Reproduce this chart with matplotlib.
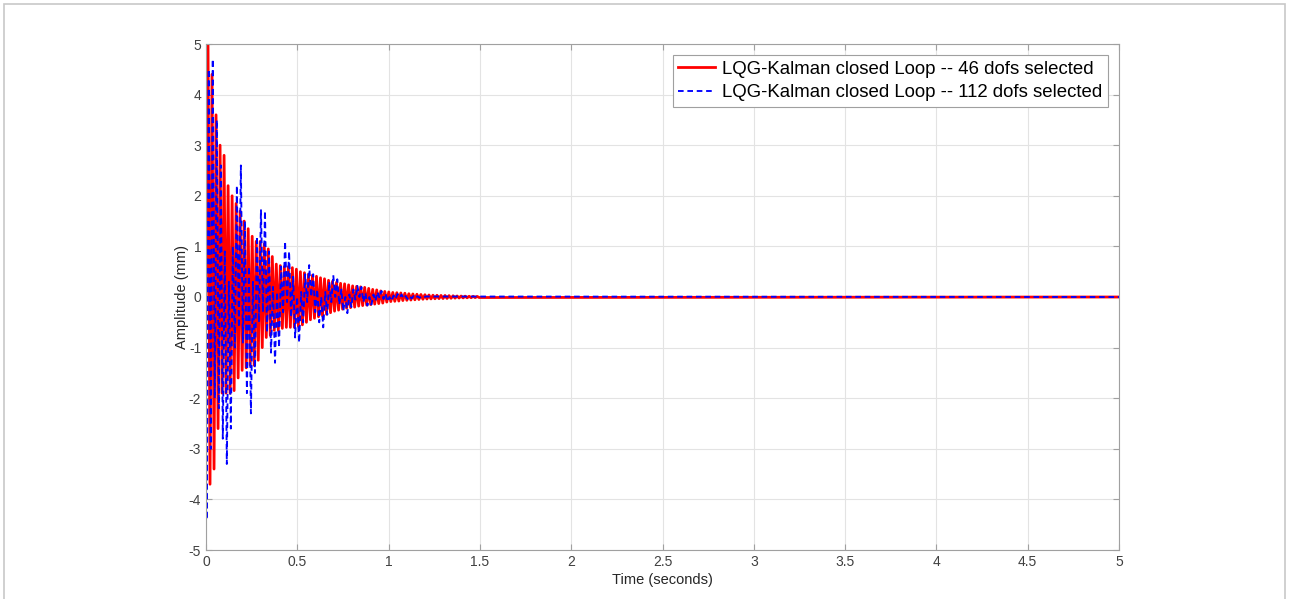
import numpy as np
import matplotlib
matplotlib.use("Agg")
import matplotlib.pyplot as plt
from matplotlib.patches import Rectangle

plt.rcParams["font.family"] = ["Liberation Sans", "DejaVu Sans"]
plt.rcParams["axes.unicode_minus"] = False

# Red series: 46 dofs -- alternating extrema (half period ~0.011 s)
red_step = 0.011
red_vals = [
    0.0, 5.0, -3.7, 4.4, -3.4, 3.6, -2.6, 3.0, -1.9, 2.8,
    -1.9, 2.2, -1.9, 2.0, -1.85, 1.85, -1.6, 1.7, -1.45, 1.5,
    -1.4, 1.35, -1.35, 1.2, -1.35, 1.1, -1.25, 1.1, -1.0, 1.05,
    -0.8, 0.95, -0.76, 0.8, -0.66, 0.65, -0.66, 0.62, -0.62, 0.6,
    -0.6, 0.6, -0.6, 0.58, -0.6, 0.55, -0.58, 0.5, -0.55, 0.48,
    -0.5, 0.45, -0.45, 0.43, -0.42, 0.41, -0.39, 0.38, -0.37, 0.36,
    -0.34, 0.33, -0.31, 0.31, -0.28, 0.29, -0.26, 0.27, -0.24, 0.26,
    -0.22, 0.24, -0.21, 0.22, -0.2, 0.21, -0.18, 0.2, -0.17, 0.19,
    -0.16, 0.17, -0.15, 0.15, -0.14, 0.14, -0.13, 0.12, -0.12, 0.11,
    -0.1, 0.1, -0.09, 0.09, -0.085, 0.085, -0.08, 0.08, -0.07, 0.075,
    -0.065, 0.065, -0.06, 0.06, -0.055, 0.055, -0.05, 0.05, -0.045, 0.045,
    -0.04, 0.04, -0.038, 0.036, -0.035, 0.034, -0.032, 0.031, -0.03, 0.03,
    -0.028, 0.027, -0.025, 0.024, -0.022, 0.021, -0.02, 0.019, -0.018, 0.017,
    -0.016, 0.015, -0.014, 0.013, -0.012, 0.011, -0.01,
]
red_tail_t = 5.0
red_tail_v = 0.0

# Blue series: 112 dofs -- alternating extrema (half period ~0.011 s)
blue_t0 = 0.004
blue_step = 0.011
blue_vals = [
    -4.4, 4.5, -3.0, 4.7, -2.0, 3.5, -2.2, 2.6, -2.8, 0.9,
    -3.3, 0.3, -2.6, 1.0, -1.0, 2.2, -0.6, 2.6, -0.9, 1.5,
    -1.9, 0.6, -2.3, 0.3, -1.5, 1.2, -0.5, 1.73, -0.3, 1.7,
    -0.7, 0.9, -1.1, 0.2, -1.3, 0.1, -1.0, 0.6, -0.3, 1.1,
    -0.1, 0.9, -0.4, 0.4, -0.8, 0.0, -0.9, 0.1, -0.5, 0.45,
    -0.1, 0.63, 0.0, 0.45, -0.3, 0.15, -0.5, 0.0, -0.6, 0.1,
    -0.35, 0.3, -0.1, 0.43, 0.0, 0.35, -0.15, 0.15, -0.28, 0.0,
    -0.32, 0.05, -0.2, 0.15, -0.05, 0.22, 0.0, 0.2, -0.1, 0.08,
    -0.17, 0.0, -0.15, 0.05, -0.08, 0.1, -0.02, 0.12, -0.04, 0.07,
    -0.09, 0.0, -0.08, 0.03, -0.04, 0.06, -0.01, 0.05, -0.03, 0.02,
    -0.04, 0.02, -0.03, 0.02, -0.02, 0.015, -0.015, 0.01, -0.01, 0.01,
]
blue_tail_t = 5.0
blue_tail_v = 0.0

labels = ["LQG-Kalman closed Loop -- 46 dofs selected",
          "LQG-Kalman closed Loop -- 112 dofs selected"]
xticks = [0, 0.5, 1, 1.5, 2, 2.5, 3, 3.5, 4, 4.5, 5]
xtick_labels = ["0", "0.5", "1", "1.5", "2", "2.5", "3", "3.5", "4", "4.5", "5"]
yticks = [-5, -4, -3, -2, -1, 0, 1, 2, 3, 4, 5]

red_t = np.append(np.arange(len(red_vals)) * red_step, red_tail_t)
red_y = np.append(red_vals, red_tail_v)
blue_t = np.append(np.append(0.0, blue_t0 + np.arange(len(blue_vals)) * blue_step), blue_tail_t)
blue_y = np.append(np.append(0.0, blue_vals), blue_tail_v)

fig = plt.figure(figsize=(12.9, 5.99), dpi=100)
fig.patches.append(Rectangle((4 / 1290, -0.1), 1281 / 1290, 1.1 - 4 / 599,
                             transform=fig.transFigure, fill=False,
                             edgecolor="#c8c8c8", linewidth=1.2))
ax = fig.add_axes([206 / 1290, 1 - 550 / 599, 913 / 1290, 506 / 599])

ax.plot(red_t, red_y, color="#ff0000", linewidth=2.0, label=labels[0])
ax.plot(blue_t, blue_y, color="#0000ff", linewidth=1.35, linestyle=(0, (3, 2)),
        label=labels[1])

ax.set_xlim(0, 5)
ax.set_ylim(-5, 5)
ax.set_xticks(xticks)
ax.set_xticklabels(xtick_labels)
ax.set_yticks(yticks)
ax.grid(True, color="#e3e3e3", linewidth=0.8)
ax.set_axisbelow(True)
for s in ax.spines.values():
    s.set_color("#a0a0a0")
    s.set_linewidth(0.8)
ax.tick_params(direction="in", length=4, colors="#a0a0a0", labelcolor="#404040",
               labelsize=10, top=True, right=True)
ax.set_xlabel("Time (seconds)", fontsize=10.5, color="#262626", labelpad=3)
ax.set_ylabel("Amplitude (mm)", fontsize=10.5, color="#262626", labelpad=0)

leg = ax.legend(loc="upper right", fontsize=13.4, fancybox=False, framealpha=1,
                edgecolor="#a0a0a0", borderpad=0.3, handlelength=2.0,
                handletextpad=0.35, labelspacing=0.35, borderaxespad=0.6)
leg.get_frame().set_linewidth(0.8)

fig.savefig("out.png", dpi=100)
